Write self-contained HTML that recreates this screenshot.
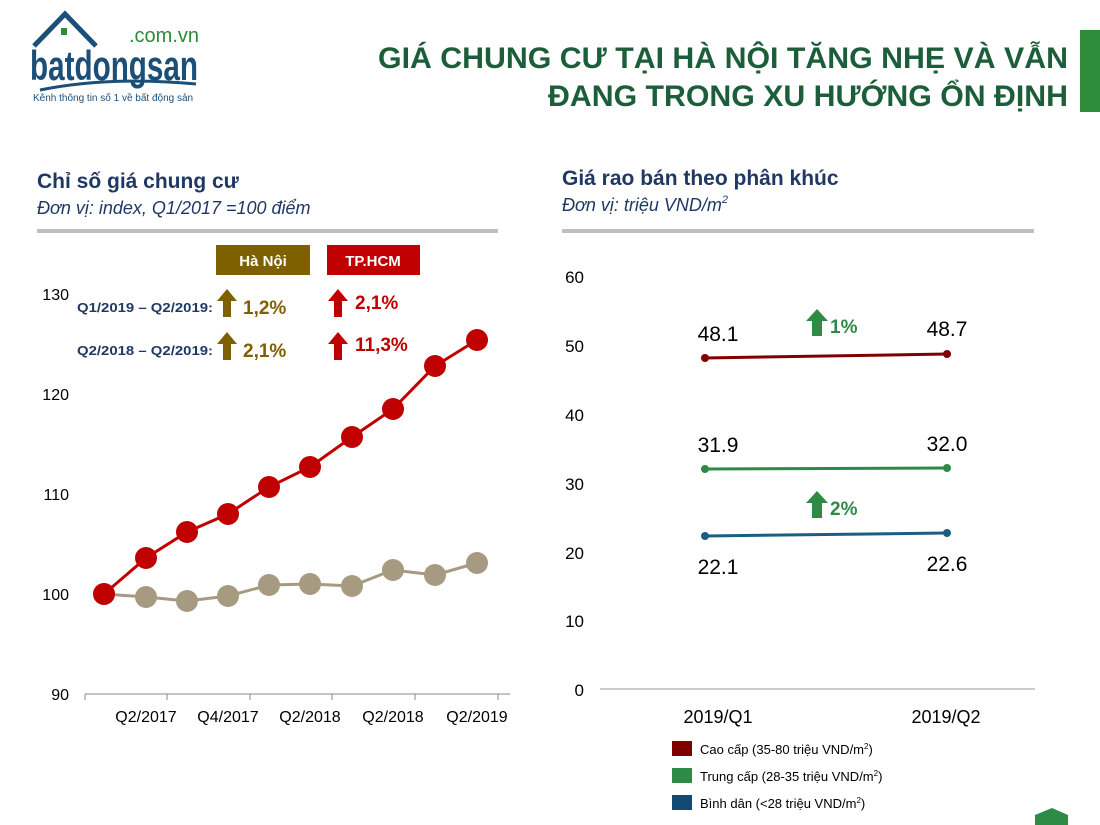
<!DOCTYPE html>
<html><head><meta charset="utf-8"><style>
body{margin:0;background:#fff}
svg{display:block;font-family:"Liberation Sans",Arial,sans-serif}
</style></head><body>
<svg width="1100" height="825" viewBox="0 0 1100 825" xmlns="http://www.w3.org/2000/svg">
<path d="M34 46 L65 14 L96 46" fill="none" stroke="#1c4f78" stroke-width="5"/>
<rect x="61" y="28" width="6" height="7" fill="#2e8b3a"/>
<text x="129" y="42" font-size="20" fill="#2e8b3a">.com.vn</text>
<text x="30" y="80" font-size="42" font-weight="bold" fill="#1c4f78" textLength="168" lengthAdjust="spacingAndGlyphs">batdongsan</text>
<path d="M40 90 Q110 76 196 84" fill="none" stroke="#1c4f78" stroke-width="3"/>
<text x="33" y="101" font-size="10" fill="#1c4f78">Kênh thông tin số 1 về bất động sản</text>
<text x="1068" y="68" font-size="30" font-weight="bold" fill="#1c5d3a" text-anchor="end" textLength="690" lengthAdjust="spacingAndGlyphs">GIÁ CHUNG CƯ TẠI HÀ NỘI TĂNG NHẸ VÀ VẪN</text>
<text x="1068" y="106" font-size="30" font-weight="bold" fill="#1c5d3a" text-anchor="end" textLength="520" lengthAdjust="spacingAndGlyphs">ĐANG TRONG XU HƯỚNG ỔN ĐỊNH</text>
<rect x="1080" y="30" width="20" height="82" fill="#2e8b3a"/>
<text x="37" y="188" font-size="21" font-weight="bold" fill="#1f3864">Chỉ số giá chung cư</text>
<text x="37" y="214" font-size="18" font-style="italic" fill="#1f3864">Đơn vị: index, Q1/2017 =100 điểm</text>
<rect x="37" y="229" width="461" height="4" fill="#bfbfbf"/>
<text x="562" y="185" font-size="21" font-weight="bold" fill="#1f3864">Giá rao bán theo phân khúc</text>
<text x="562" y="211" font-size="18" font-style="italic" fill="#1f3864">Đơn vị: triệu VND/m<tspan font-size="11" dy="-8">2</tspan></text>
<rect x="562" y="229" width="472" height="4" fill="#bfbfbf"/>
<g font-size="16" fill="#000">
<text x="69" y="300" text-anchor="end">130</text>
<text x="69" y="400" text-anchor="end">120</text>
<text x="69" y="500" text-anchor="end">110</text>
<text x="69" y="600" text-anchor="end">100</text>
<text x="69" y="700" text-anchor="end">90</text>
</g>
<line x1="85" y1="694" x2="510" y2="694" stroke="#888" stroke-width="1"/>
<g stroke="#888"><line x1="85" y1="694" x2="85" y2="700"/><line x1="167" y1="694" x2="167" y2="700"/><line x1="250" y1="694" x2="250" y2="700"/><line x1="332" y1="694" x2="332" y2="700"/><line x1="415" y1="694" x2="415" y2="700"/><line x1="498" y1="694" x2="498" y2="700"/></g>
<g font-size="16" text-anchor="middle">
<text x="146" y="722">Q2/2017</text><text x="228" y="722">Q4/2017</text><text x="310" y="722">Q2/2018</text><text x="393" y="722">Q2/2018</text><text x="477" y="722">Q2/2019</text>
</g>
<polyline fill="none" stroke="#a69a80" stroke-width="3" points="104,594 146,597 187,601 228,596 269,585 310,584 352,586 393,570 435,575 477,563"/>
<g fill="#a69a80"><circle cx="104" cy="594" r="11"/><circle cx="146" cy="597" r="11"/><circle cx="187" cy="601" r="11"/><circle cx="228" cy="596" r="11"/><circle cx="269" cy="585" r="11"/><circle cx="310" cy="584" r="11"/><circle cx="352" cy="586" r="11"/><circle cx="393" cy="570" r="11"/><circle cx="435" cy="575" r="11"/><circle cx="477" cy="563" r="11"/></g>
<polyline fill="none" stroke="#c00000" stroke-width="3" points="104,594 146,558 187,532 228,514 269,487 310,467 352,437 393,409 435,366 477,340"/>
<g fill="#c00000"><circle cx="104" cy="594" r="11"/><circle cx="146" cy="558" r="11"/><circle cx="187" cy="532" r="11"/><circle cx="228" cy="514" r="11"/><circle cx="269" cy="487" r="11"/><circle cx="310" cy="467" r="11"/><circle cx="352" cy="437" r="11"/><circle cx="393" cy="409" r="11"/><circle cx="435" cy="366" r="11"/><circle cx="477" cy="340" r="11"/></g>
<rect x="216" y="245" width="94" height="30" fill="#7f6000"/>
<text x="263" y="266" font-size="15" font-weight="bold" fill="#fff" text-anchor="middle">Hà Nội</text>
<rect x="327" y="245" width="93" height="30" fill="#c00000"/>
<text x="373" y="266" font-size="15" font-weight="bold" fill="#fff" text-anchor="middle">TP.HCM</text>
<g font-size="13" font-weight="bold" fill="#1f3864">
<text x="77" y="312" textLength="136" lengthAdjust="spacingAndGlyphs">Q1/2019 – Q2/2019:</text>
<text x="77" y="355" textLength="136" lengthAdjust="spacingAndGlyphs">Q2/2018 – Q2/2019:</text>
</g>
<path d="M217 301 L227 289 L237 301 L231 301 L231 317 L223 317 L223 301Z" fill="#7f6000"/>
<path d="M217 344 L227 332 L237 344 L231 344 L231 360 L223 360 L223 344Z" fill="#7f6000"/>
<path d="M328 301 L338 289 L348 301 L342 301 L342 317 L334 317 L334 301Z" fill="#c00000"/>
<path d="M328 344 L338 332 L348 344 L342 344 L342 360 L334 360 L334 344Z" fill="#c00000"/>
<g font-size="19" font-weight="bold">
<text x="243" y="314" fill="#7f6000">1,2%</text>
<text x="243" y="357" fill="#7f6000">2,1%</text>
<text x="355" y="309" fill="#c00000">2,1%</text>
<text x="355" y="351" fill="#c00000">11,3%</text>
</g>
<g font-size="17" text-anchor="end">
<text x="584" y="283">60</text><text x="584" y="352">50</text><text x="584" y="421">40</text><text x="584" y="490">30</text><text x="584" y="559">20</text><text x="584" y="627">10</text><text x="584" y="696">0</text>
</g>
<line x1="600" y1="689" x2="1035" y2="689" stroke="#999"/>
<g font-size="18" text-anchor="middle"><text x="718" y="723">2019/Q1</text><text x="946" y="723">2019/Q2</text></g>
<line x1="705" y1="358" x2="947" y2="354" stroke="#800000" stroke-width="3"/>
<circle cx="705" cy="358" r="4" fill="#800000"/><circle cx="947" cy="354" r="4" fill="#800000"/>
<line x1="705" y1="469" x2="947" y2="468" stroke="#2e8b45" stroke-width="3"/>
<circle cx="705" cy="469" r="4" fill="#2e8b45"/><circle cx="947" cy="468" r="4" fill="#2e8b45"/>
<line x1="705" y1="536" x2="947" y2="533" stroke="#1b5e84" stroke-width="3"/>
<circle cx="705" cy="536" r="4" fill="#1b5e84"/><circle cx="947" cy="533" r="4" fill="#1b5e84"/>
<g font-size="21" text-anchor="middle">
<text x="718" y="341">48.1</text><text x="947" y="336">48.7</text>
<text x="718" y="452">31.9</text><text x="947" y="451">32.0</text>
<text x="718" y="574">22.1</text><text x="947" y="571">22.6</text>
</g>
<path d="M806 321 L817 309 L828 321 L822 321 L822 336 L812 336 L812 321Z" fill="#2e8b45"/>
<text x="830" y="333" font-size="19" font-weight="bold" fill="#2e8b45">1%</text>
<path d="M806 503 L817 491 L828 503 L822 503 L822 518 L812 518 L812 503Z" fill="#2e8b45"/>
<text x="830" y="515" font-size="19" font-weight="bold" fill="#2e8b45">2%</text>
<rect x="672" y="741" width="20" height="15" fill="#800000"/>
<rect x="672" y="768" width="20" height="15" fill="#2e8b45"/>
<rect x="672" y="795" width="20" height="15" fill="#124a73"/>
<g font-size="13">
<text x="700" y="754">Cao cấp (35-80 triệu VND/m<tspan font-size="8" dy="-5">2</tspan><tspan dy="5">)</tspan></text>
<text x="700" y="781">Trung cấp (28-35 triệu VND/m<tspan font-size="8" dy="-5">2</tspan><tspan dy="5">)</tspan></text>
<text x="700" y="808">Bình dân (&lt;28 triệu VND/m<tspan font-size="8" dy="-5">2</tspan><tspan dy="5">)</tspan></text>
</g>
<path d="M1035 815 L1052 808 L1068 815 L1068 825 L1035 825Z" fill="#2e8b45"/>
</svg>
</body></html>
